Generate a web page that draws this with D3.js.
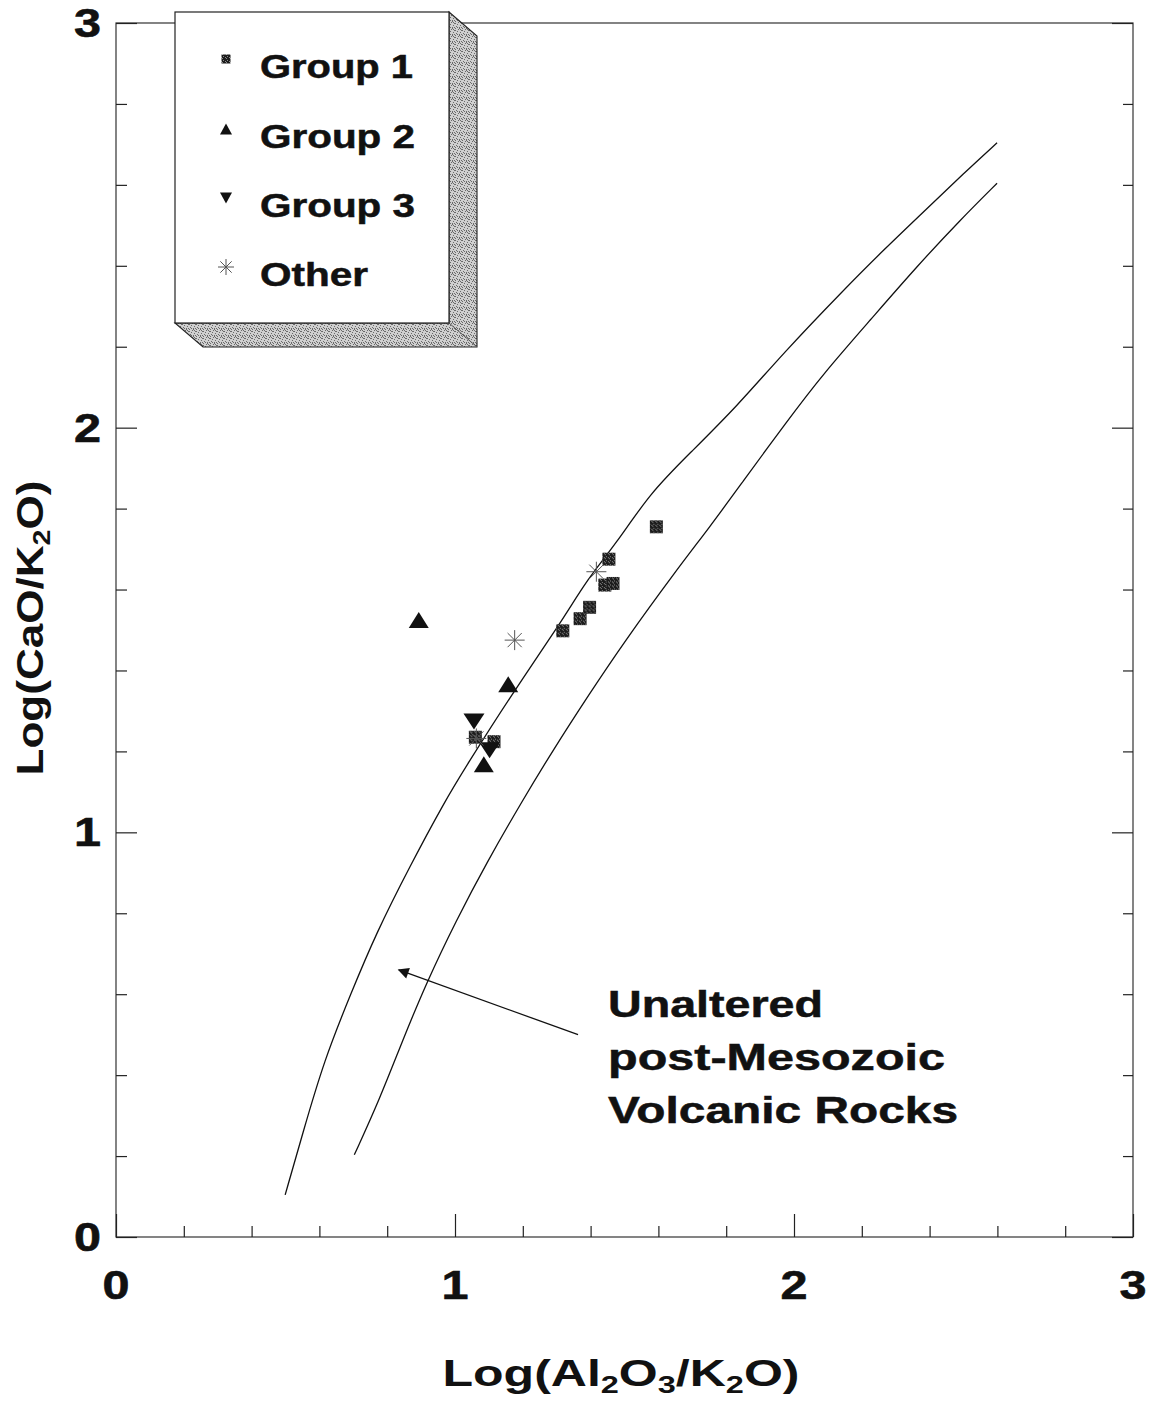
<!DOCTYPE html>
<html>
<head>
<meta charset="utf-8">
<script src="https://cdn.jsdelivr.net/npm/d3@7"></script>
<style>
  body { margin: 0; background: #fff; }
  text { font-family: "Liberation Sans", Arial, Helvetica, sans-serif; font-weight: bold; fill: #111; }
</style>
</head>
<body>
<svg id="chart" width="1155" height="1402"></svg>
<script>
// ---- data: Log(Al2O3/K2O) vs Log(CaO/K2O) ----
const group1X = [1.318, 1.369, 1.397, 1.442, 1.466, 1.454, 1.594, 1.060, 1.115];
const group1Y = [1.498, 1.528, 1.556, 1.611, 1.615, 1.675, 1.755, 1.235, 1.224];

const group2X = [0.893, 1.157, 1.085];
const group2Y = [1.525, 1.366, 1.168];

const group3X = [1.056, 1.102];
const group3Y = [1.274, 1.203];

const otherX = [1.176, 1.417, 1.063];
const otherY = [1.475, 1.644, 1.232];

// field boundaries of unaltered post-Mesozoic volcanic rocks
const upperBoundX = [0.499, 0.550, 0.614, 0.693, 0.767, 0.866, 0.972, 1.032, 1.156, 1.318, 1.388, 1.476, 1.575, 1.693, 1.831, 1.968, 2.146, 2.264, 2.392, 2.500, 2.599];
const upperBoundY = [0.104, 0.254, 0.437, 0.602, 0.750, 0.915, 1.080, 1.162, 1.327, 1.525, 1.623, 1.714, 1.838, 1.937, 2.052, 2.184, 2.340, 2.439, 2.541, 2.628, 2.704];

const lowerBoundX = [0.703, 0.777, 0.846, 0.915, 1.004, 1.092, 1.200, 1.289, 1.397, 1.496, 1.653, 1.752, 1.845, 1.982, 2.087, 2.225, 2.362, 2.490, 2.599];
const lowerBoundY = [0.203, 0.339, 0.487, 0.627, 0.783, 0.923, 1.080, 1.203, 1.343, 1.467, 1.648, 1.755, 1.862, 2.019, 2.134, 2.266, 2.398, 2.513, 2.604];

// arrow pointing into the field: [tail, head]
const arrowX = [1.363, 0.834];
const arrowY = [0.500, 0.660];

const majorTicks = [0, 1, 2, 3];
const minorTicks = [0.2, 0.4, 0.6, 0.8, 1.2, 1.4, 1.6, 1.8, 2.2, 2.4, 2.6, 2.8];

const legendLabels = ["Group 1", "Group 2", "Group 3", "Other"];
const noteLines = ["Unaltered", "post-Mesozoic", "Volcanic Rocks"];

// ---- layout ----
const svg = d3.select("#chart");
const x = d3.scaleLinear().domain([0, 3]).range([116, 1133]);
const y = d3.scaleLinear().domain([0, 3]).range([1237, 23]);

const defs = svg.append("defs");
// stippled grey used for the legend's raised edge
const stip = defs.append("pattern").attr("id", "stipple")
  .attr("width", 7).attr("height", 7).attr("patternUnits", "userSpaceOnUse");
stip.append("rect").attr("width", 7).attr("height", 7).attr("fill", "#cfcfcf");
[[0,0],[3,1],[5,4],[1,5],[6,2],[2,3],[4,6],[6,6],[0,2],[4,0],[2,6],[5,1]].forEach(([a,b]) =>
  stip.append("rect").attr("x", a).attr("y", b).attr("width", 1).attr("height", 1).attr("fill", "#6a6a6a"));
// dark speckled fill for Group 1 squares
const sq = defs.append("pattern").attr("id", "speck")
  .attr("width", 4).attr("height", 4).attr("patternUnits", "userSpaceOnUse");
sq.append("rect").attr("width", 4).attr("height", 4).attr("fill", "#1c1c1c");
[[1,1],[3,2],[0,3]].forEach(([a,b]) =>
  sq.append("rect").attr("x", a).attr("y", b).attr("width", 1).attr("height", 1).attr("fill", "#8a8a8a"));

// ---- frame and ticks ----
const frame = svg.append("g");
frame.append("rect")
  .attr("x", x(0)).attr("y", y(3))
  .attr("width", x(3) - x(0)).attr("height", y(0) - y(3))
  .attr("fill", "none").attr("stroke", "#333").attr("stroke-width", 1.2);

function tickAxis(axisFn, scale, values, size, transform) {
  const g = frame.append("g").attr("transform", transform)
    .call(axisFn(scale).tickValues(values).tickSize(size).tickFormat(""));
  g.select(".domain").remove();
  g.selectAll(".tick line").attr("stroke", "#222").attr("stroke-width", 1.2);
}
tickAxis(d3.axisBottom, x, minorTicks, -11, `translate(0,${y(0)})`);
tickAxis(d3.axisBottom, x, majorTicks, -23, `translate(0,${y(0)})`);
tickAxis(d3.axisLeft, y, minorTicks, -11, `translate(${x(0)},0)`);
tickAxis(d3.axisLeft, y, majorTicks, -21, `translate(${x(0)},0)`);
tickAxis(d3.axisRight, y, minorTicks, -10, `translate(${x(3)},0)`);
tickAxis(d3.axisRight, y, majorTicks, -21, `translate(${x(3)},0)`);

// tick labels (wide bold face)
const digitW = 27;
frame.selectAll(".xl").data(majorTicks).join("text")
  .attr("x", d => x(d)).attr("y", 1299)
  .attr("text-anchor", "middle").attr("font-size", 40)
  .attr("textLength", digitW).attr("lengthAdjust", "spacingAndGlyphs")
  .attr("stroke", "#111").attr("stroke-width", 0.6)
  .text(d => d);
frame.selectAll(".yl").data(majorTicks).join("text")
  .attr("x", 101).attr("y", d => y(d) + 14)
  .attr("text-anchor", "end").attr("font-size", 40)
  .attr("textLength", digitW).attr("lengthAdjust", "spacingAndGlyphs")
  .attr("stroke", "#111").attr("stroke-width", 0.6)
  .text(d => d);

// axis titles with subscripts
function subscripted(sel, parts) {
  parts.forEach(([t, s], i) => {
    const ts = sel.append("tspan").text(t);
    if (s) ts.attr("font-size", 24).attr("dy", 7);
    else if (i > 0) ts.attr("dy", -7);
  });
}
const xt = svg.append("text")
  .attr("x", 621).attr("y", 1386).attr("text-anchor", "middle")
  .attr("font-size", 37).attr("textLength", 357).attr("lengthAdjust", "spacingAndGlyphs");
subscripted(xt, [["Log(Al", 0], ["2", 1], ["O", 0], ["3", 1], ["/K", 0], ["2", 1], ["O)", 0]]);

const yt = svg.append("text")
  .attr("transform", "translate(43,628) rotate(-90)").attr("text-anchor", "middle")
  .attr("font-size", 37).attr("textLength", 295).attr("lengthAdjust", "spacingAndGlyphs");
subscripted(yt, [["Log(CaO/K", 0], ["2", 1], ["O)", 0]]);

// ---- field boundary curves ----
const line = d3.line().x(d => x(d[0])).y(d => y(d[1])).curve(d3.curveBasis);
const curves = svg.append("g").attr("fill", "none").attr("stroke", "#111").attr("stroke-width", 1.3);
curves.append("path").attr("d", line(d3.zip(upperBoundX, upperBoundY)));
curves.append("path").attr("d", line(d3.zip(lowerBoundX, lowerBoundY)));

// ---- arrow and note ----
defs.append("marker").attr("id", "head")
  .attr("viewBox", "0 0 10 10").attr("refX", 9).attr("refY", 5)
  .attr("markerWidth", 12).attr("markerHeight", 11).attr("markerUnits", "userSpaceOnUse")
  .attr("orient", "auto")
  .append("path").attr("d", "M0,0 L10,5 L0,10 Z").attr("fill", "#111");
svg.append("line")
  .attr("x1", x(arrowX[0])).attr("y1", y(arrowY[0]))
  .attr("x2", x(arrowX[1])).attr("y2", y(arrowY[1]))
  .attr("stroke", "#111").attr("stroke-width", 1.3)
  .attr("marker-end", "url(#head)");

const noteW = [215, 337, 350];
svg.selectAll(".note").data(noteLines).join("text")
  .attr("x", 608).attr("y", (d, i) => 1017 + i * 53)
  .attr("font-size", 36)
  .attr("textLength", (d, i) => noteW[i]).attr("lengthAdjust", "spacingAndGlyphs")
  .attr("stroke", "#111").attr("stroke-width", 0.5)
  .text(d => d);

// ---- marker shapes ----
function triUp(w, h) { return `M0,${-h/2}L${w/2},${h/2}L${-w/2},${h/2}Z`; }
function triDown(w, h) { return `M0,${h/2}L${w/2},${-h/2}L${-w/2},${-h/2}Z`; }
function star(r) {
  const k = r * Math.SQRT1_2;
  return `M${-r},0H${r}M0,${-r}V${r}M${-k},${-k}L${k},${k}M${-k},${k}L${k},${-k}`;
}
function square(s) { return `M${-s/2},${-s/2}h${s}v${s}h${-s}Z`; }

const pts = svg.append("g");
pts.selectAll(".g1").data(d3.zip(group1X, group1Y)).join("path")
  .attr("transform", d => `translate(${x(d[0])},${y(d[1])})`)
  .attr("d", square(13)).attr("fill", "url(#speck)");
pts.selectAll(".g2").data(d3.zip(group2X, group2Y)).join("path")
  .attr("transform", d => `translate(${x(d[0])},${y(d[1])})`)
  .attr("d", triUp(20, 16)).attr("fill", "#111");
pts.selectAll(".g3").data(d3.zip(group3X, group3Y)).join("path")
  .attr("transform", d => `translate(${x(d[0])},${y(d[1])})`)
  .attr("d", triDown(21, 16)).attr("fill", "#111");
pts.selectAll(".ot").data(d3.zip(otherX, otherY)).join("path")
  .attr("transform", d => `translate(${x(d[0])},${y(d[1])})`)
  .attr("d", star(10)).attr("fill", "none").attr("stroke", "#555").attr("stroke-width", 1);

// ---- legend (raised box) ----
const L = { x0: 175, y0: 12, x1: 449, y1: 323, dx: 28, dy: 24 };
const lg = svg.append("g");
lg.append("path")
  .attr("d", `M${L.x1},${L.y0}L${L.x1 + L.dx},${L.y0 + L.dy}L${L.x1 + L.dx},${L.y1 + L.dy}L${L.x0 + L.dx},${L.y1 + L.dy}L${L.x0},${L.y1}L${L.x1},${L.y1}Z`)
  .attr("fill", "url(#stipple)").attr("stroke", "#222").attr("stroke-width", 1.1);
lg.append("line").attr("x1", L.x1).attr("y1", L.y1).attr("x2", L.x1 + L.dx).attr("y2", L.y1 + L.dy)
  .attr("stroke", "#555").attr("stroke-width", 1);
lg.append("rect").attr("x", L.x0).attr("y", L.y0)
  .attr("width", L.x1 - L.x0).attr("height", L.y1 - L.y0)
  .attr("fill", "#fff").attr("stroke", "#222").attr("stroke-width", 1.2);

const rowY = [78, 148, 217, 286];
const legendW = [153, 155, 155, 108];
const legendShapes = [
  { d: square(9), fill: "url(#speck)", stroke: "none" },
  { d: triUp(12, 11), fill: "#111", stroke: "none" },
  { d: triDown(12, 11), fill: "#111", stroke: "none" },
  { d: star(8), fill: "none", stroke: "#555" }
];
legendLabels.forEach((lab, i) => {
  lg.append("path")
    .attr("transform", `translate(226,${rowY[i] - 19})`)
    .attr("d", legendShapes[i].d).attr("fill", legendShapes[i].fill)
    .attr("stroke", legendShapes[i].stroke).attr("stroke-width", 1);
  lg.append("text").attr("x", 260).attr("y", rowY[i])
    .attr("font-size", 33)
    .attr("textLength", legendW[i]).attr("lengthAdjust", "spacingAndGlyphs")
    .attr("stroke", "#111").attr("stroke-width", 0.5)
    .text(lab);
});
</script>
</body>
</html>
